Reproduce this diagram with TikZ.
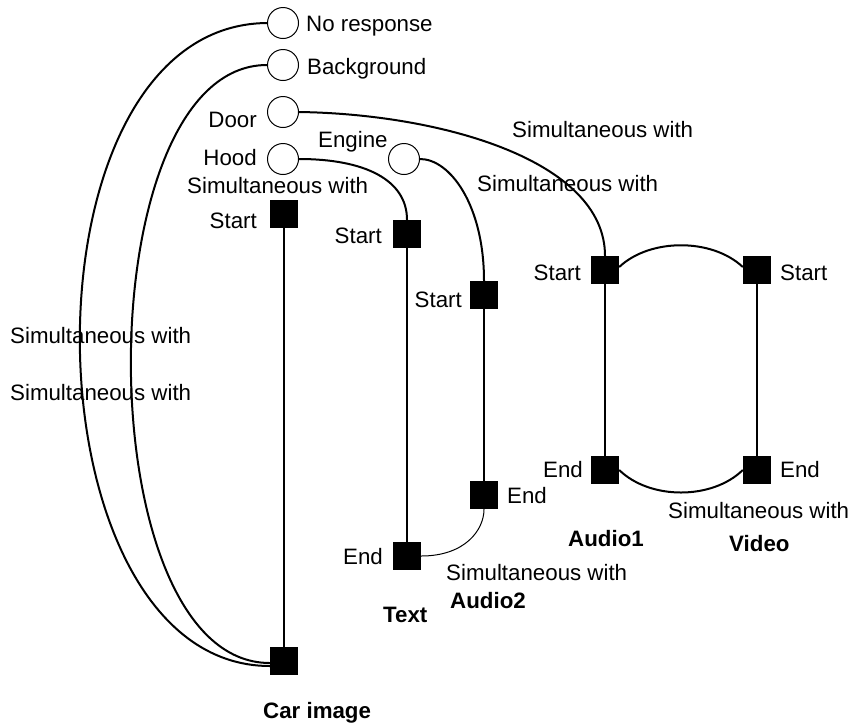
\documentclass[tikz,border=0pt]{standalone}
\usepackage{fontspec}
\setmainfont{Liberation Sans}
\begin{document}
\begin{tikzpicture}[x=1pt,y=-1pt,
  circ/.style={circle, draw, line width=1pt, minimum size=31pt, inner sep=0pt},
  sq/.style={rectangle, fill=black, minimum size=28pt, inner sep=0pt},
  lbl/.style={inner sep=0pt, font=\fontsize{22.3}{26}\selectfont},
  ttl/.style={inner sep=0pt, font=\fontsize{22.3}{26}\selectfont\bfseries},
  conn/.style={line width=2pt},
  thinconn/.style={line width=1pt}]
\useasboundingbox (0,0) rectangle (848,724);

% circles
\node[circ] (nr)   at (283,23)  {};
\node[circ] (bg)   at (283,65)  {};
\node[circ] (door) at (283,112) {};
\node[circ] (hood) at (283,159) {};
\node[circ] (eng)  at (404,159) {};

% squares
\node[sq] (cs)  at (284,214) {};
\node[sq] (ce)  at (284,661) {};
\node[sq] (ts)  at (407,234) {};
\node[sq] (te)  at (407,556) {};
\node[sq] (a2s) at (484,295) {};
\node[sq] (a2e) at (484,495) {};
\node[sq] (a1s) at (605,270) {};
\node[sq] (a1e) at (605,470) {};
\node[sq] (vs)  at (757,270) {};
\node[sq] (ve)  at (757,470) {};

% circle labels
\node[lbl, anchor=base west] (lnr)   at (306,31)  {No response};
\node[lbl, anchor=base west] (lbg)   at (307,74)  {Background};
\node[lbl, anchor=base east] (ldoor) at (257,127) {Door};
\node[lbl, anchor=base west] (leng)  at (318,147) {Engine};
\node[lbl, anchor=base east] (lhood) at (257,165) {Hood};

% start / end labels
\node[lbl, anchor=base east] (lcs)  at (257,228) {Start};
\node[lbl, anchor=base east] (lts)  at (382,243) {Start};
\node[lbl, anchor=base east] (la2s) at (462,307) {Start};
\node[lbl, anchor=base east] (la1s) at (581,280) {Start};
\node[lbl, anchor=base west] (lvs)  at (780,280) {Start};
\node[lbl, anchor=base east] (lte)  at (383,564) {End};
\node[lbl, anchor=base west] (la2e) at (507,503) {End};
\node[lbl, anchor=base east] (la1e) at (583,477) {End};
\node[lbl, anchor=base west] (lve)  at (780,477) {End};

% relation labels
\node[lbl, anchor=base west] (s1) at (187,193) {Simultaneous with};
\node[lbl, anchor=base west] (s2) at (512,137) {Simultaneous with};
\node[lbl, anchor=base west] (s3) at (477,191) {Simultaneous with};
\node[lbl, anchor=base west] (s4) at (10,343)  {Simultaneous with};
\node[lbl, anchor=base west] (s5) at (10,400)  {Simultaneous with};
\node[lbl, anchor=base west] (s6) at (446,580) {Simultaneous with};
\node[lbl, anchor=base west] (s7) at (668,518) {Simultaneous with};

% track titles
\node[ttl, anchor=base west] (tcar) at (263,718) {Car image};
\node[ttl, anchor=base west] (ttext) at (383,622) {Text};
\node[ttl, anchor=base west] (ta2) at (450,608) {Audio2};
\node[ttl, anchor=base west] (ta1) at (568,546) {Audio1};
\node[ttl, anchor=base west] (tv) at (729,551) {Video};

% track lines
\draw[conn] (cs) -- (ce);
\draw[conn] (ts) -- (te);
\draw[conn] (a2s) -- (a2e);
\draw[conn] (a1s) -- (a1e);
\draw[conn] (vs) -- (ve);

% connectors
\draw[conn] (nr.west) .. controls (12,25) and (22,666) .. ([yshift=-5pt]ce.west);
\draw[conn] (bg.west) .. controls (85,65) and (85,663) .. ([yshift=-2pt]ce.west);
\draw[conn] (door.east) .. controls (440,114) and (605,160) .. (a1s.north);
\draw[conn] (hood.east) .. controls (365,159) and (407,180) .. (ts.north);
\draw[conn] (eng.east) .. controls (450,159) and (484,205) .. (a2s.north);
\draw[thinconn] (te.east) .. controls (465,556) and (484,530) .. (a2e.south);
\draw[conn] ([yshift=3pt]a1s.east) .. controls (650,238) and (712,238) .. ([yshift=3pt]vs.west);
\draw[conn] (a1e.east) .. controls (650,500) and (712,500) .. (ve.west);
\end{tikzpicture}
\end{document}
